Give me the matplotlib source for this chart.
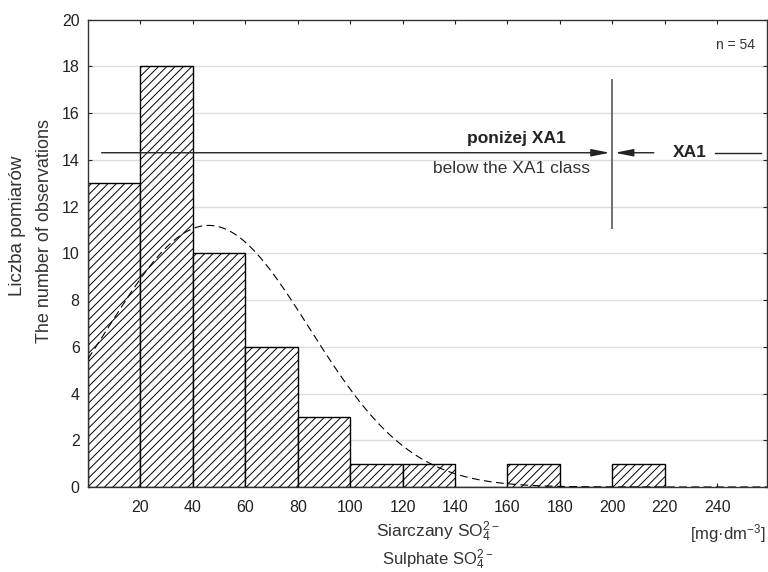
import matplotlib
matplotlib.use("Agg")
import matplotlib.pyplot as plt
import numpy as np

# ---------------------------------------------------------------------------
# Data
# ---------------------------------------------------------------------------
bin_edges = [0, 20, 40, 60, 80, 100, 120, 140, 160, 180, 200, 220]
counts = [13, 18, 10, 6, 3, 1, 1, 0, 1, 0, 1]
n_obs = 54

# fitted normal curve (parameters estimated from the plotted curve)
fit_mean = 46.0
fit_sd = 38.5

x_ticks = [20, 40, 60, 80, 100, 120, 140, 160, 180, 200, 220, 240]
y_ticks = [0, 2, 4, 6, 8, 10, 12, 14, 16, 18, 20]

xa1_limit = 200

# ---------------------------------------------------------------------------
plt.rcParams["font.family"] = ["Liberation Sans", "DejaVu Sans"]
plt.rcParams["mathtext.default"] = "regular"
plt.rcParams["hatch.linewidth"] = 0.7

fig = plt.figure(figsize=(7.68, 5.72), dpi=100)
ax = fig.add_axes([0.1146, 0.1486, 0.8841, 0.8173])
ax.set_xlim(0, 259)
ax.set_ylim(0, 20)

# grid behind everything
for y in y_ticks[1:-1]:
    ax.axhline(y, color="#dcdce6", lw=1.0, zorder=0)

# histogram bars
widths = np.diff(bin_edges)
ax.bar(bin_edges[:-1], counts, width=widths, align="edge",
       facecolor="white", edgecolor="black", hatch="////",
       linewidth=1.0, zorder=2)

# normal curve scaled to counts
xs = np.linspace(0, 259, 400)
scale = n_obs * 20 / (fit_sd * np.sqrt(2 * np.pi))
ys = scale * np.exp(-0.5 * ((xs - fit_mean) / fit_sd) ** 2)
ax.plot(xs, ys, color="black", lw=0.8, dashes=(7, 4), zorder=3)

# XA1 boundary
ax.plot([xa1_limit, xa1_limit], [11.07, 17.4], color="#707070", lw=1.4, zorder=4)

arrow_kw = dict(arrowstyle="-|>,head_length=1.1,head_width=0.22",
                color="#222222", lw=1.0, shrinkA=0, shrinkB=0)
ax.annotate("", xy=(xa1_limit - 1, 14.3), xytext=(5.2, 14.3),
            arrowprops=arrow_kw, zorder=5)
ax.annotate("", xy=(xa1_limit + 1, 14.3), xytext=(215.8, 14.3),
            arrowprops=arrow_kw, zorder=5)
ax.plot([239, 256.8], [14.3, 14.3], color="#222222", lw=1.0, zorder=5)

ax.text(163.5, 14.9, "poniżej XA1", ha="center", va="center",
        fontsize=12.5, fontweight="bold", color="#222222", zorder=6)
ax.text(161.4, 13.62, "below the XA1 class", ha="center", va="center",
        fontsize=12.5, color="#333333", zorder=6)
ax.text(229.7, 14.3, "XA1", ha="center", va="center",
        fontsize=12.5, fontweight="bold", color="#222222", zorder=6)
ax.text(247, 18.9, f"n = {n_obs}", ha="center", va="center",
        fontsize=10, color="#333333")

# ticks / spines
ax.set_xticks(x_ticks)
ax.set_xticklabels([str(t) for t in x_ticks])
ax.set_yticks(y_ticks)
ax.set_yticklabels([str(t) for t in y_ticks])
ax.tick_params(axis="both", direction="in", length=3, width=0.8,
               labelsize=11.5, colors="#222222",
               top=True, right=True)
ax.tick_params(axis="x", pad=9)
ax.tick_params(axis="y", pad=6)
for s in ax.spines.values():
    s.set_color("#333333")
    s.set_linewidth(1.0)

# axis titles
fig.text(18 / 768, 1 - 226 / 572, "Liczba pomiarów", rotation=90, ha="center",
         va="center", fontsize=13.5, color="#333333")
fig.text(45 / 768, 1 - 231 / 572, "The number of observations", rotation=90,
         ha="center", va="center", fontsize=13, color="#333333")
fig.text(438 / 768, 1 - 532 / 572, r"Siarczany SO$_4^{2-}$", ha="center",
         va="center", fontsize=12.5, color="#333333")
fig.text(438 / 768, 1 - 560 / 572, r"Sulphate SO$_4^{2-}$", ha="center",
         va="center", fontsize=12, color="#333333")
fig.text(766 / 768, 1 - 534 / 572, r"[mg·dm$^{-3}$]", ha="right",
         va="center", fontsize=12, color="#333333")

fig.savefig("out.png", dpi=100)
